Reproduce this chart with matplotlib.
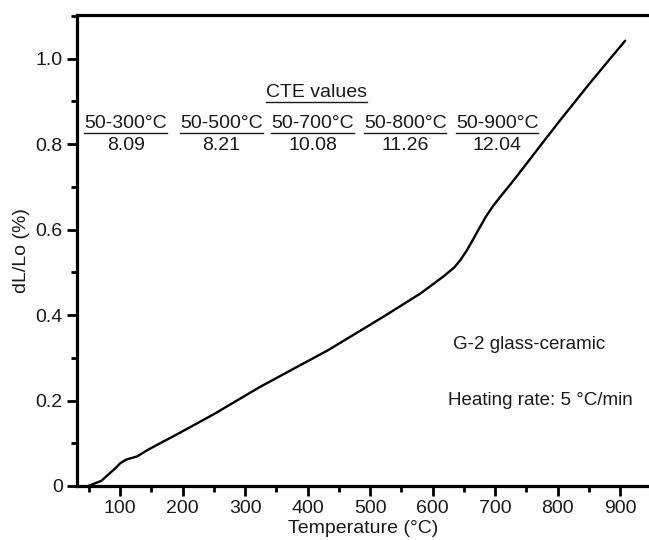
import numpy as np
import matplotlib
matplotlib.use("Agg")
import matplotlib.pyplot as plt
from matplotlib.ticker import MultipleLocator

# dilatometer curve
temp = [49, 70, 89, 95, 100, 110, 127, 145, 164, 190, 250, 324, 433, 520,
        580, 617, 635, 645, 655, 665, 673, 685, 697, 710, 725, 740, 770,
        804, 850, 880, 908]
dl = [0.0, 0.012, 0.037, 0.045, 0.053, 0.062, 0.069, 0.085, 0.100, 0.120,
      0.168, 0.232, 0.318, 0.395, 0.450, 0.490, 0.512, 0.530, 0.552, 0.578,
      0.599, 0.630, 0.656, 0.680, 0.707, 0.735, 0.792, 0.856, 0.940, 0.993,
      1.042]

cte_ranges = ["50-300°C", "50-500°C", "50-700°C", "50-800°C", "50-900°C"]
cte_values = ["8.09", "8.21", "10.08", "11.26", "12.04"]
cte_xpos = [109, 262, 408, 556, 703]

yticks = [0, 0.2, 0.4, 0.6, 0.8, 1.0]
ytick_labels = ["0", "0.2", "0.4", "0.6", "0.8", "1.0"]
xticks = [100, 200, 300, 400, 500, 600, 700, 800, 900]

plt.rcParams["font.family"] = ["Liberation Sans", "DejaVu Sans"]
FS = 14
TXT = "#1a1a1a"

fig = plt.figure(figsize=(6.49, 5.40), dpi=100)
ax = fig.add_axes([0.1182, 0.1, 1 - 0.1182, 0.8722])

ax.plot(temp, dl, color="black", lw=1.7, solid_capstyle="round",
        solid_joinstyle="round")

ax.set_xlim(30.7, 946)
ax.set_ylim(0, 1.102)
ax.set_xticks(xticks)
ax.set_yticks(yticks)
ax.set_yticklabels(ytick_labels)
ax.xaxis.set_minor_locator(MultipleLocator(50))
ax.yaxis.set_minor_locator(MultipleLocator(0.1))
ax.tick_params(which="major", length=7, width=2, direction="out",
               labelsize=FS, pad=3, colors="black", labelcolor=TXT)
ax.tick_params(which="minor", length=4, width=2, direction="out")

for side in ["left", "bottom", "top"]:
    ax.spines[side].set_linewidth(2.3)
ax.spines["right"].set_visible(False)

ax.set_xlabel("Temperature (°C)", fontsize=FS, labelpad=2, color=TXT)
ax.set_ylabel("dL/Lo (%)", fontsize=FS, labelpad=4, color=TXT)

fig.canvas.draw()
renderer = fig.canvas.get_renderer()


def underlined(x, y, s):
    t = ax.text(x, y, s, fontsize=FS, ha="center", va="center", color=TXT)
    bb = t.get_window_extent(renderer=renderer)
    inv = ax.transData.inverted()
    (x0, y0), (x1, _) = inv.transform([(bb.x0, bb.y0 - 1), (bb.x1, bb.y0 - 1)])
    ax.plot([x0, x1], [y0, y0], color=TXT, lw=1.0, clip_on=False)


underlined(415, 0.92, "CTE values")
for xp, r, v in zip(cte_xpos, cte_ranges, cte_values):
    underlined(xp, 0.849, r)
    ax.text(xp, 0.797, v, fontsize=FS, ha="center", va="center", color=TXT)

ax.text(755, 0.33, "G-2 glass-ceramic", fontsize=FS - 0.5, ha="center",
        va="center", color=TXT)
ax.text(773, 0.20, "Heating rate: 5 °C/min", fontsize=FS - 0.5, ha="center",
        va="center", color=TXT)

fig.savefig("out.png", dpi=100)
